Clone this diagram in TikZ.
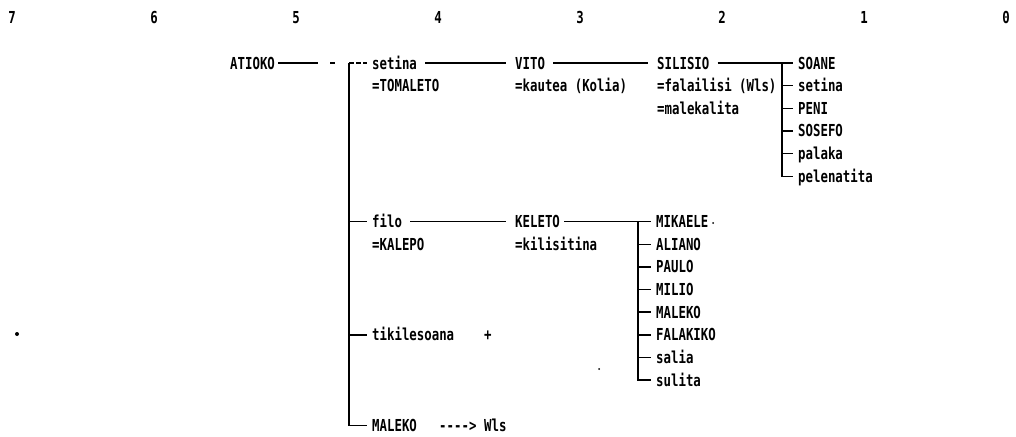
\documentclass[tikz,border=0pt]{standalone}
\usepackage{fontspec}
\setmonofont[FakeStretch=0.75]{DejaVu Sans Mono}

\begin{document}
\begin{tikzpicture}[x=1pt, y=-1pt,
	person/.style={ font=\ttfamily\bfseries\fontsize{16.5}{19}\selectfont, anchor=base west, inner sep=0pt, text height=12pt, text depth=0pt },
	digit/.style={ font=\ttfamily\bfseries\fontsize{16.5}{19}\selectfont, anchor=base, inner sep=0pt },
	link/.style={ line width=1.4pt, shorten <=8pt, shorten >=9pt },
	twig/.style={ line width=1.4pt, shorten >=5pt },
	speck/.style={ circle, fill, inner sep=0pt, minimum size=2pt }
]
\useasboundingbox (0,0) rectangle (1016,436);

% generation numbers
\foreach \d in {0,...,7} \node[digit] (col\d) at ({1006-142*\d},24) {\d};

% first branch
\node[person] (atioko) at (230,69) {ATIOKO};
\node[person] (setina) at (372,69) {setina};
\node[person] (tomaleto) at (372,91.65) {=TOMALETO};
\node[person] (vito) at (515,69) {VITO};
\node[person] (kautea) at (515,91.65) {=kautea (Kolia)};
\node[person] (silisio) at (657,69) {SILISIO};
\node[person] (falailisi) at (657,91.65) {=falailisi (Wls)};
\node[person] (malekalita) at (657,114.3) {=malekalita};

\foreach \t [count=\i] in {SOANE,setina,PENI,SOSEFO,palaka,pelenatita}
	\node[person] (s\i) at (798,{69+(\i-1)*22.65}) {\t};

% second branch
\node[person] (filo) at (372,227.55) {filo};
\node[person] (kalepo) at (372,250.2) {=KALEPO};
\node[person] (keleto) at (515,227.55) {KELETO};
\node[person] (kilisitina) at (515,250.2) {=kilisitina};

\foreach \t [count=\i] in {MIKAELE,ALIANO,PAULO,MILIO,MALEKO,FALAKIKO,salia,sulita}
	\node[person] (k\i) at (656,{227.55+(\i-1)*22.65}) {\t};

\node[person] (tikilesoana) at (372,340.8) {tikilesoana};
\node[person] (plus) at (484,340.8) {+};
\node[person] (maleko) at (372,431.4) {MALEKO};
\node[person] (dashes) at (439,431.4) {---->};
\node[person] (wls) at (484,431.4) {Wls};

\node[speck, minimum size=4pt] (speck1) at (17,334) {};
\node[speck] (speck2) at (599,369) {};
\node[speck] (speck3) at (713,223) {};

% lines
\coordinate (trunk) at (349,63);
\draw[line width=1.4pt, dash pattern=on 40pt off 12pt on 5pt off 40pt, shorten <=3pt] (atioko.east) -- (trunk);
\draw[twig, dash pattern=on 5pt off 2pt] (trunk) -- (setina.west);
\draw[twig] (trunk) |- (maleko.west);
\foreach \p in {filo,tikilesoana} \draw[twig] (trunk |- \p.west) -- (\p.west);

\draw[link] (setina.east) -- (vito.west);
\draw[link] (vito.east) -- (silisio.west);
\draw[link] (filo.east) -- (keleto.west);

\coordinate (sbar) at ([xshift=-16pt]s1.west);
\draw[twig, shorten <=8pt] (silisio.east) -- (s1.west);
\draw[twig] (sbar) |- (s6.west);
\foreach \i in {2,...,5} \draw[twig] (sbar |- s\i.west) -- (s\i.west);

\coordinate (kbar) at ([xshift=-18pt]k1.west);
\draw[twig, shorten <=4pt] (keleto.east) -- (k1.west);
\draw[twig] (kbar) |- (k8.west);
\foreach \i in {2,...,7} \draw[twig] (kbar |- k\i.west) -- (k\i.west);

\end{tikzpicture}
\end{document}
